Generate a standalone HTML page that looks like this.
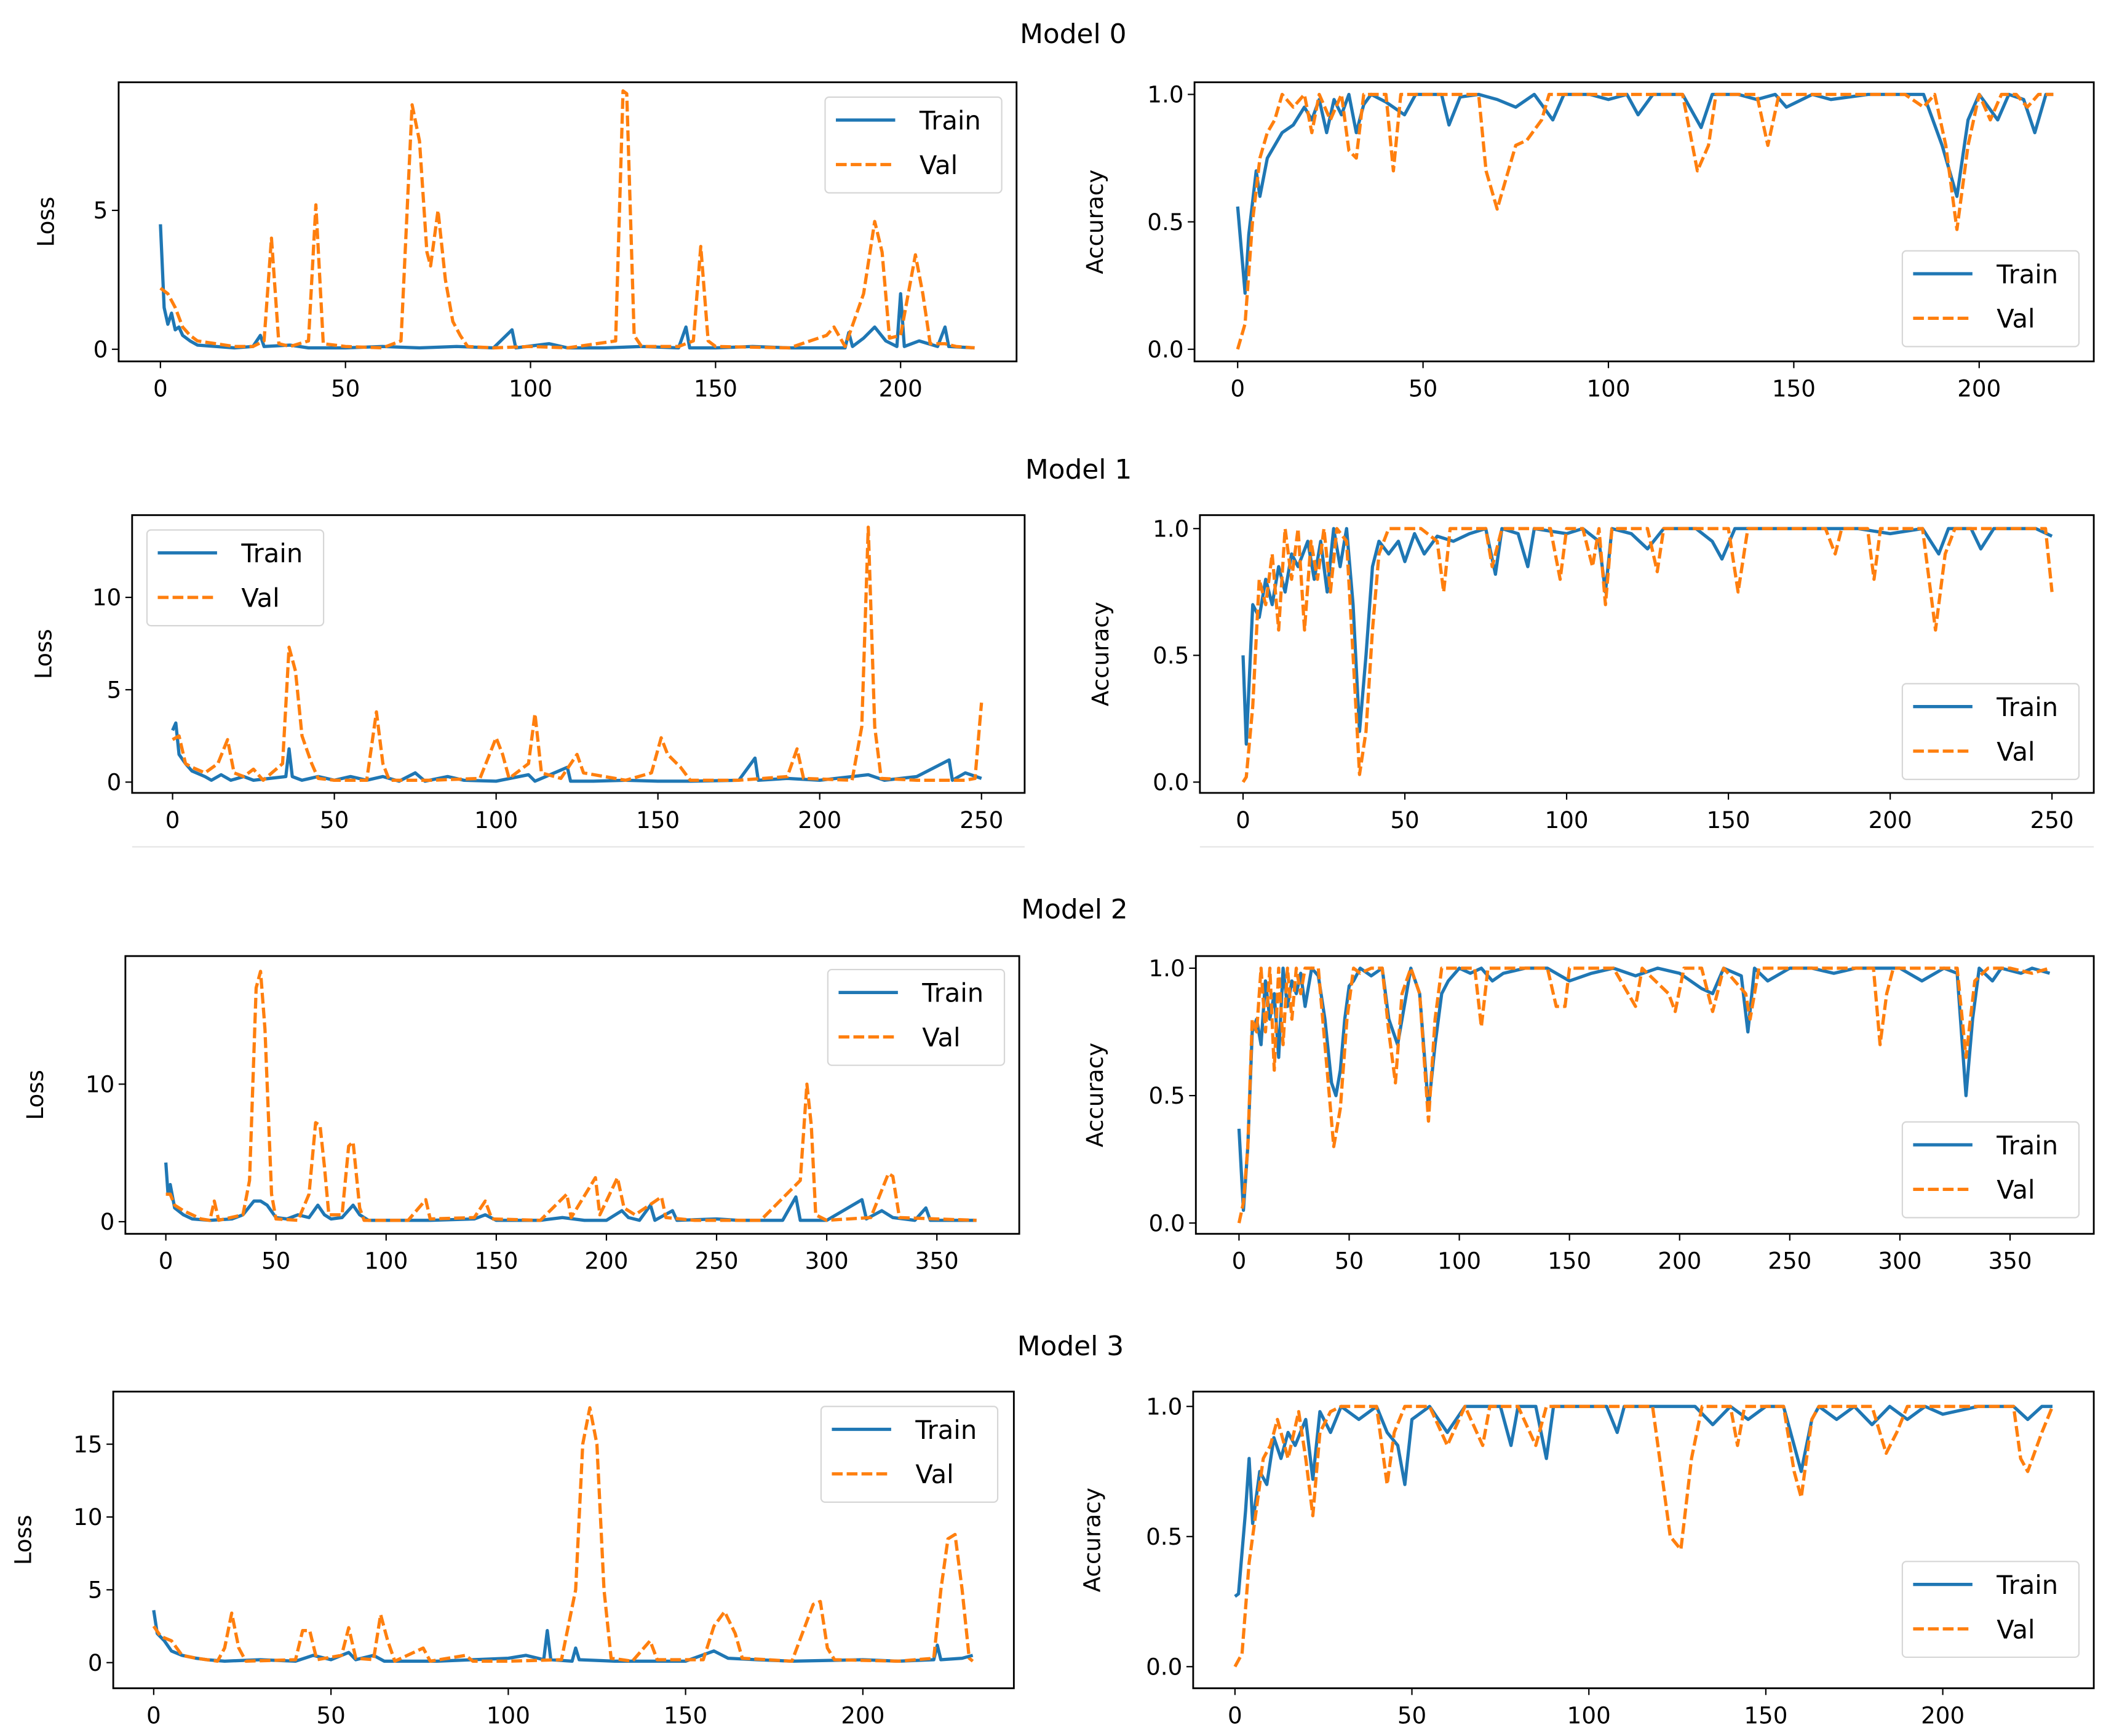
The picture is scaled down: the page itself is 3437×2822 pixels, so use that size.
<!DOCTYPE html>
<html><head><meta charset="utf-8"><style>
html,body{margin:0;padding:0;background:#fff;}
svg{display:block;font-family:"DejaVu Sans","Liberation Sans",sans-serif;}
</style></head><body>
<svg id="fig" width="3437" height="2822" viewBox="0 0 1568 1287.4" xmlns="http://www.w3.org/2000/svg">
<rect width="1568" height="1288" fill="#fff"/>
<text x="796" y="32" font-size="20" text-anchor="middle">Model 0</text>
<text x="800" y="355" font-size="20" text-anchor="middle">Model 1</text>
<text x="797" y="681" font-size="20" text-anchor="middle">Model 2</text>
<text x="794" y="1005" font-size="20" text-anchor="middle">Model 3</text>
<line x1="98" y1="628" x2="760" y2="628" stroke="#e4e4e4" stroke-width="1"/>
<line x1="890" y1="628" x2="1553" y2="628" stroke="#e4e4e4" stroke-width="1"/>
</svg>
<script>
// ---- Model 0 ----
const m0LossTrainX=[0,1,2,3,4,5,6,8,10,15,20,25,27,28,35,40,50,60,70,80,90,95,96,105,110,120,130,140,142,143,150,160,170,185,186,187,190,193,196,199,200,201,205,210,212,213,220];
const m0LossTrainY=[4.5,1.5,0.9,1.3,0.7,0.8,0.5,0.3,0.15,0.1,0.05,0.1,0.5,0.1,0.15,0.05,0.05,0.1,0.05,0.1,0.05,0.7,0.05,0.2,0.05,0.05,0.1,0.05,0.8,0.05,0.05,0.1,0.05,0.05,0.6,0.1,0.4,0.8,0.3,0.1,2.0,0.1,0.3,0.1,0.8,0.1,0.05];
const m0LossValX=[0,2,4,6,8,10,15,20,25,28,30,32,35,40,42,44,50,60,65,68,70,72,73,75,77,79,81,83,90,100,110,123,125,126,128,130,140,144,146,148,150,170,180,182,185,190,193,195,197,200,204,206,208,212,215,220];
const m0LossValY=[2.2,2.0,1.5,0.8,0.5,0.3,0.2,0.1,0.1,0.3,4.0,0.2,0.1,0.3,5.2,0.2,0.1,0.05,0.3,8.8,7.5,3.5,3.0,5.0,2.5,1.0,0.5,0.1,0.05,0.1,0.05,0.3,9.3,9.2,0.5,0.1,0.1,0.3,3.7,0.3,0.1,0.05,0.5,0.8,0.1,2.0,4.6,3.5,0.4,0.5,3.4,2.0,0.2,0.2,0.1,0.05];
const m0AccTrainX=[0,2,3,5,6,8,10,12,15,18,20,22,24,26,28,30,32,34,36,40,45,48,55,57,60,65,70,75,80,85,88,95,100,105,108,112,120,125,128,135,140,145,148,155,160,170,185,190,194,197,200,205,208,212,215,218,220];
const m0AccTrainY=[0.56,0.22,0.45,0.7,0.6,0.75,0.8,0.85,0.88,0.95,0.9,0.98,0.85,0.98,0.92,1.0,0.85,0.96,1.0,0.97,0.92,1.0,1.0,0.88,0.99,1.0,0.98,0.95,1.0,0.9,1.0,1.0,0.98,1.0,0.92,1.0,1.0,0.87,1.0,1.0,0.98,1.0,0.95,1.0,0.98,1.0,1.0,0.8,0.6,0.9,1.0,0.9,1.0,0.98,0.85,1.0,1.0];
const m0AccValX=[0,2,4,6,8,10,12,15,18,20,22,25,28,30,32,34,40,42,44,50,60,65,67,70,72,75,78,82,84,90,120,124,127,129,140,143,146,160,180,185,188,191,194,197,200,203,206,210,213,216,220];
const m0AccValY=[0.0,0.1,0.5,0.75,0.85,0.9,1.0,0.95,1.0,0.85,1.0,0.9,1.0,0.78,0.75,1.0,1.0,0.7,1.0,1.0,1.0,1.0,0.7,0.55,0.65,0.8,0.82,0.9,1.0,1.0,1.0,0.7,0.8,1.0,1.0,0.8,1.0,1.0,1.0,0.95,1.0,0.8,0.47,0.8,1.0,0.9,1.0,1.0,0.95,1.0,1.0];
// ---- Model 1 ----
const m1LossTrainX=[0,1,2,4,6,10,12,15,18,22,25,30,35,36,37,40,45,50,55,60,65,70,75,78,85,90,100,110,112,122,123,130,140,150,160,175,180,181,190,200,210,215,220,230,240,241,245,250];
const m1LossTrainY=[2.8,3.2,1.5,1.0,0.6,0.3,0.1,0.4,0.1,0.3,0.1,0.2,0.3,1.8,0.3,0.1,0.3,0.1,0.3,0.1,0.3,0.05,0.5,0.05,0.3,0.1,0.05,0.4,0.05,0.8,0.05,0.05,0.1,0.05,0.05,0.1,1.3,0.1,0.2,0.1,0.3,0.4,0.1,0.3,1.2,0.1,0.5,0.2];
const m1LossValX=[0,2,4,6,10,14,17,19,22,25,28,34,36,38,40,43,45,50,60,63,65,67,80,95,100,102,104,110,112,114,120,125,127,140,148,151,153,157,160,175,190,193,195,210,213,215,217,219,230,245,248,250];
const m1LossValY=[2.3,2.5,1.0,0.8,0.5,1.0,2.3,0.5,0.3,0.7,0.1,1.0,7.3,6.0,2.5,1.0,0.2,0.1,0.1,3.8,1.0,0.1,0.1,0.2,2.4,1.5,0.2,1.0,3.7,0.5,0.2,1.5,0.5,0.1,0.5,2.4,1.5,0.8,0.1,0.1,0.3,1.8,0.2,0.1,3.0,13.8,3.0,0.2,0.1,0.1,0.2,4.3];
const m1AccTrainX=[0,1,3,5,7,9,11,13,15,17,20,22,24,26,28,30,32,34,36,38,40,42,45,48,50,53,56,60,65,70,75,78,80,85,88,90,100,105,110,112,114,120,125,130,140,145,148,152,160,170,180,190,200,210,215,218,225,228,232,240,245,250];
const m1AccTrainY=[0.5,0.15,0.7,0.65,0.8,0.7,0.85,0.75,0.9,0.85,0.95,0.8,0.95,0.75,1.0,0.85,1.0,0.7,0.2,0.5,0.85,0.95,0.9,0.95,0.87,0.98,0.9,0.97,0.95,0.98,1.0,0.82,1.0,0.98,0.85,1.0,0.98,1.0,0.95,0.75,1.0,0.98,0.92,1.0,1.0,0.95,0.88,1.0,1.0,1.0,1.0,1.0,0.98,1.0,0.9,1.0,1.0,0.92,1.0,1.0,1.0,0.97];
const m1AccValX=[0,1,3,5,7,9,11,13,15,17,19,21,23,25,27,29,32,34,36,38,40,42,45,50,55,60,62,64,70,75,77,80,95,98,100,105,108,110,112,114,125,128,130,140,150,153,156,170,180,183,185,193,195,197,210,214,217,220,240,248,250];
const m1AccValY=[0.0,0.02,0.3,0.8,0.7,0.9,0.6,1.0,0.8,1.0,0.6,0.95,0.8,1.0,0.75,1.0,0.95,0.5,0.03,0.2,0.6,0.9,1.0,1.0,1.0,0.95,0.75,1.0,1.0,1.0,0.85,1.0,1.0,0.8,1.0,1.0,0.85,1.0,0.7,1.0,1.0,0.83,1.0,1.0,1.0,0.75,1.0,1.0,1.0,0.9,1.0,1.0,0.8,1.0,1.0,0.6,0.9,1.0,1.0,1.0,0.75];
// ---- Model 2 ----
const m2LossTrainX=[0,1,2,4,8,12,20,30,35,40,43,46,50,55,60,65,69,72,75,80,85,88,92,100,120,140,145,150,170,180,190,200,207,210,215,220,222,230,232,250,260,280,286,288,300,316,318,325,330,340,345,347,360,368];
const m2LossTrainY=[4.3,2.0,2.7,1.0,0.5,0.2,0.1,0.2,0.5,1.5,1.5,1.2,0.3,0.2,0.5,0.3,1.2,0.5,0.2,0.3,1.2,0.5,0.1,0.1,0.1,0.2,0.5,0.1,0.1,0.3,0.1,0.1,0.8,0.3,0.1,1.2,0.1,0.8,0.1,0.2,0.1,0.1,1.8,0.1,0.1,1.6,0.2,0.8,0.3,0.1,1.0,0.1,0.1,0.1];
const m2LossValX=[0,2,4,8,12,16,20,22,24,35,38,41,43,45,48,50,60,65,68,70,72,74,80,83,85,88,90,110,118,120,140,145,148,170,182,184,195,197,200,205,208,213,225,227,240,270,288,291,293,295,300,320,328,330,333,350,368];
const m2LossValY=[2.0,2.0,1.2,0.8,0.5,0.2,0.1,1.5,0.1,0.5,3.0,17.0,18.2,14.0,2.0,0.2,0.1,2.0,7.2,7.0,4.0,0.5,0.5,5.5,5.8,1.0,0.1,0.1,1.6,0.2,0.3,1.5,0.2,0.1,2.0,0.3,3.2,0.5,1.5,3.2,1.0,0.5,1.8,0.3,0.1,0.1,3.0,10.0,7.0,0.5,0.1,0.3,3.5,3.3,0.3,0.2,0.1];
const m2AccTrainX=[0,2,4,6,8,10,12,14,16,18,20,22,24,26,28,30,33,36,39,42,44,46,48,50,52,55,60,65,68,72,75,78,82,86,89,92,95,100,105,110,115,120,130,140,150,160,170,180,190,200,210,215,220,228,231,234,240,250,260,270,280,300,310,320,326,330,333,336,342,346,355,360,368];
const m2AccTrainY=[0.37,0.05,0.3,0.75,0.8,0.7,0.95,0.8,0.9,0.65,1.0,0.85,0.95,0.9,0.98,0.85,1.0,0.97,0.8,0.55,0.5,0.6,0.8,0.93,0.95,1.0,0.97,1.0,0.8,0.7,0.85,1.0,0.9,0.45,0.7,0.9,0.95,1.0,0.98,1.0,0.95,0.98,1.0,1.0,0.95,0.98,1.0,0.97,1.0,0.98,0.92,0.9,1.0,0.97,0.75,1.0,0.95,1.0,1.0,0.98,1.0,1.0,0.95,1.0,0.98,0.5,0.8,1.0,0.95,1.0,0.98,1.0,0.98];
const m2AccValX=[0,2,4,6,8,10,12,14,16,18,20,22,24,26,28,30,33,36,40,43,46,49,52,55,60,65,68,71,74,78,82,86,89,92,100,107,110,113,120,130,140,144,148,150,160,170,180,183,195,198,202,210,215,220,230,232,236,250,270,288,291,294,297,310,326,330,334,340,350,360,368];
const m2AccValY=[0.0,0.08,0.3,0.8,0.75,1.0,0.75,1.0,0.6,1.0,0.7,1.0,0.8,1.0,0.9,1.0,1.0,1.0,0.6,0.3,0.45,0.8,1.0,0.98,1.0,1.0,0.75,0.55,0.9,1.0,0.9,0.4,0.8,1.0,1.0,1.0,0.77,1.0,1.0,1.0,1.0,0.85,0.85,1.0,1.0,1.0,0.85,1.0,0.9,0.83,1.0,1.0,0.83,1.0,0.9,0.8,1.0,1.0,1.0,1.0,0.7,0.9,1.0,1.0,1.0,0.65,0.95,1.0,1.0,0.98,1.0];
// ---- Model 3 ----
const m3LossTrainX=[0,1,3,5,8,12,15,20,30,40,45,50,55,57,62,65,80,90,100,105,110,111,112,118,119,120,130,150,158,162,170,180,200,210,220,221,222,228,231];
const m3LossTrainY=[3.6,2.0,1.5,0.8,0.5,0.3,0.2,0.1,0.2,0.1,0.5,0.2,0.7,0.2,0.5,0.1,0.1,0.2,0.3,0.5,0.2,2.2,0.2,0.1,1.0,0.2,0.1,0.1,0.8,0.3,0.2,0.1,0.2,0.1,0.2,1.2,0.2,0.3,0.5];
const m3LossValX=[0,2,5,8,12,18,20,22,24,26,40,42,44,46,53,55,57,62,64,66,68,76,78,88,90,100,115,119,121,123,125,127,129,135,140,142,155,158,161,164,166,180,186,188,190,192,210,220,222,224,226,228,230,231];
const m3LossValY=[2.5,1.8,1.5,0.5,0.3,0.1,1.0,3.4,1.0,0.1,0.2,2.2,2.2,0.2,0.5,2.4,0.3,0.2,3.3,1.5,0.1,1.0,0.1,0.5,0.1,0.1,0.2,5.0,15.0,17.5,15.0,5.0,0.3,0.1,1.5,0.2,0.2,2.5,3.5,2.0,0.3,0.1,4.0,4.2,1.0,0.2,0.1,0.3,5.0,8.5,8.8,5.0,0.3,0.1];
const m3AccTrainX=[0,1,3,4,5,7,9,11,13,15,17,20,22,24,27,30,35,40,43,46,48,50,55,60,65,70,75,78,80,85,88,90,100,105,108,110,120,130,135,140,145,150,155,158,160,163,165,170,175,180,185,190,195,200,210,215,220,224,228,231];
const m3AccTrainY=[0.27,0.28,0.6,0.8,0.55,0.75,0.7,0.88,0.8,0.9,0.85,0.95,0.72,0.98,0.9,1.0,0.95,1.0,0.9,0.85,0.7,0.95,1.0,0.9,1.0,1.0,1.0,0.85,1.0,1.0,0.8,1.0,1.0,1.0,0.9,1.0,1.0,1.0,0.93,1.0,0.95,1.0,1.0,0.85,0.75,0.95,1.0,0.95,1.0,0.93,1.0,0.95,1.0,0.97,1.0,1.0,1.0,0.95,1.0,1.0];
const m3AccValX=[0,2,4,6,8,10,12,15,18,20,22,24,27,30,40,43,45,48,55,60,65,70,72,80,85,88,100,110,118,121,123,126,129,132,140,142,144,155,158,160,163,165,180,184,187,190,210,220,222,224,228,231];
const m3AccValY=[0.0,0.05,0.4,0.6,0.8,0.85,0.95,0.8,0.98,0.8,0.58,0.9,0.98,1.0,1.0,0.7,0.9,1.0,1.0,0.85,1.0,0.85,1.0,1.0,0.85,1.0,1.0,1.0,1.0,0.7,0.5,0.45,0.8,1.0,1.0,0.85,1.0,1.0,0.75,0.65,0.95,1.0,1.0,0.82,0.9,1.0,1.0,1.0,0.8,0.75,0.9,1.0];
// tick labels
const xTicks0=[0,50,100,150,200];
const xTicks1=[0,50,100,150,200,250];
const xTicks2=[0,50,100,150,200,250,300,350];
const xTicks3=[0,50,100,150,200];
const lossTicks0=[0,5];
const lossTicks1=[0,5,10];
const lossTicks2=[0,10];
const lossTicks3=[0,5,10,15];
const accTicks=[0.0,0.5,1.0];
const accTickLabels=["0.0","0.5","1.0"];

const NS="http://www.w3.org/2000/svg";
const svg=document.getElementById('fig');
function mk(tag,attrs,parent){const e=document.createElementNS(NS,tag);for(const k in attrs)e.setAttribute(k,attrs[k]);(parent||svg).appendChild(e);return e;}

function panel(id,box,xr,yr,xt,yt,ytl,ylabel,series,leg){
  const g=mk('g',{});
  
  
  const [x0,y0,x1,y1]=box;
  const sx=v=>box[0]+(v-xr[0])/(xr[1]-xr[0])*(x1-x0);
  const sy=v=>y1-(v-yr[0])/(yr[1]-yr[0])*(y1-y0);
  const colors=['#1f77b4','#ff7f0e'];
  series.forEach((s,i)=>{
    const d=s.x.map((v,j)=>(j?'L':'M')+sx(v).toFixed(2)+','+sy(s.y[j]).toFixed(2)).join('');
    const p=mk('path',{d:d,fill:'none',stroke:colors[i],'stroke-width':2.4,'stroke-linejoin':'round','stroke-dasharray':i?'8,3':'none'},g);
    
    
  });
  const fr=mk('rect',{x:x0,y:y0,width:x1-x0,height:y1-y0,fill:'none',stroke:'#000','stroke-width':1.3},g);
  
  
  xt.forEach(v=>{
    const X=sx(v);
    mk('line',{x1:X,y1:y1,x2:X,y2:y1+5,stroke:'#000','stroke-width':1},g);
    const t=mk('text',{x:X,y:y1+26,'font-size':17,'text-anchor':'middle'},g);
    t.textContent=v;
    
    
  });
  yt.forEach((v,k)=>{
    const Y=sy(v);
    mk('line',{x1:x0-5,y1:Y,x2:x0,y2:Y,stroke:'#000','stroke-width':1},g);
    const t=mk('text',{x:x0-8,y:Y+6,'font-size':17,'text-anchor':'end'},g);
    t.textContent=ytl?ytl[k]:v;
    
    
  });
  const yl=mk('text',{x:ylabel[1],y:(y0+y1)/2,'font-size':17,'text-anchor':'middle',transform:'rotate(-90 '+ylabel[1]+' '+(y0+y1)/2+')'},g);
  yl.textContent=ylabel[0];
  
  
  const [lx,ly]=leg;
  const lb=mk('rect',{x:lx,y:ly,width:131,height:71,rx:3,fill:'#fff','fill-opacity':0.85,stroke:'#d6d6d6','stroke-width':1},g);
  
  
  ['Train','Val'].forEach((n,i)=>{
    const Y=ly+17+i*33;
    const l=mk('line',{x1:lx+8,y1:Y,x2:lx+52,y2:Y,stroke:colors[i],'stroke-width':2.4,'stroke-dasharray':i?'8,3':'none'},g);
    
    
    const t=mk('text',{x:lx+70,y:Y+7,'font-size':19},g);
    t.textContent=n;
    
    
  });
}

panel('model-0-loss',[88,61,754,268],[(88-119)/2.745,(754-119)/2.745],[-(268-259)/20.6,(259-61)/20.6],xTicks0,lossTicks0,null,['Loss',40],[{x:m0LossTrainX,y:m0LossTrainY},{x:m0LossValX,y:m0LossValY}],[612,72]);
panel('model-0-accuracy',[886,61,1553,268],[(886-918)/2.75,(1553-918)/2.75],[-(268-259)/189,(259-61)/189],xTicks0,accTicks,accTickLabels,['Accuracy',818],[{x:m0AccTrainX,y:m0AccTrainY},{x:m0AccValX,y:m0AccValY}],[1411,186]);
panel('model-1-loss',[98,382,760,588],[(98-128)/2.4,(760-128)/2.4],[-(588-580)/13.7,(580-382)/13.7],xTicks1,lossTicks1,null,['Loss',38],[{x:m1LossTrainX,y:m1LossTrainY},{x:m1LossValX,y:m1LossValY}],[109,393]);
panel('model-1-accuracy',[890,382,1553,588],[(890-922)/2.4,(1553-922)/2.4],[-(588-580)/188,(580-382)/188],xTicks1,accTicks,accTickLabels,['Accuracy',822],[{x:m1AccTrainX,y:m1AccTrainY},{x:m1AccValX,y:m1AccValY}],[1411,507]);
panel('model-2-loss',[93,709,756,915],[(93-123)/1.634,(756-123)/1.634],[-(915-906)/10.2,(906-709)/10.2],xTicks2,lossTicks2,null,['Loss',32],[{x:m2LossTrainX,y:m2LossTrainY},{x:m2LossValX,y:m2LossValY}],[614,719]);
panel('model-2-accuracy',[887,709,1553,915],[(887-919)/1.634,(1553-919)/1.634],[-(915-907)/189,(907-709)/189],xTicks2,accTicks,accTickLabels,['Accuracy',818],[{x:m2AccTrainX,y:m2AccTrainY},{x:m2AccValX,y:m2AccValY}],[1411,832]);
panel('model-3-loss',[84,1032,752,1252],[(84-114)/2.63,(752-114)/2.63],[-(1252-1233)/10.8,(1233-1032)/10.8],xTicks3,lossTicks3,null,['Loss',23],[{x:m3LossTrainX,y:m3LossTrainY},{x:m3LossValX,y:m3LossValY}],[609,1043]);
panel('model-3-accuracy',[885,1032,1553,1252],[(885-916)/2.625,(1553-916)/2.625],[-(1252-1236)/193,(1236-1032)/193],xTicks3,accTicks,accTickLabels,['Accuracy',816],[{x:m3AccTrainX,y:m3AccTrainY},{x:m3AccValX,y:m3AccValY}],[1411,1158]);
</script>
</body></html>
